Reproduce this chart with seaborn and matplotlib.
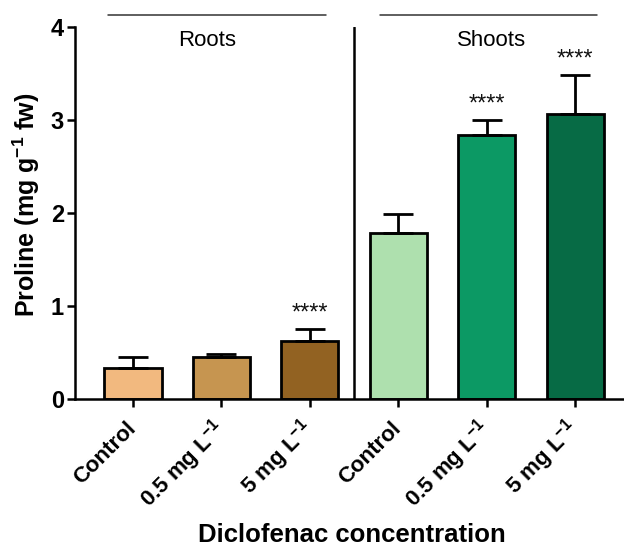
import numpy as np
import pandas as pd
import matplotlib
matplotlib.use("Agg")
import matplotlib.pyplot as plt
import seaborn as sns

# ---- data ----
groups = ["Roots", "Roots", "Roots", "Shoots", "Shoots", "Shoots"]
keys = ["R_ctrl", "R_05", "R_5", "S_ctrl", "S_05", "S_5"]
tick_labels = ["Control", r"0.5 mg L$^{-1}$", r"5 mg L$^{-1}$",
               "Control", r"0.5 mg L$^{-1}$", r"5 mg L$^{-1}$"]
means = [0.33, 0.45, 0.62, 1.78, 2.84, 3.07]
err_upper = [0.12, 0.035, 0.13, 0.21, 0.16, 0.41]
signif = ["", "", "****", "", "****", "****"]
colors = ["#F2B97F", "#C69550", "#926222", "#AEE0AE", "#0C9964", "#076B45"]
yticks = [0, 1, 2, 3, 4]

sns.set_theme(style="ticks")
plt.rcParams["font.family"] = ["Liberation Sans", "DejaVu Sans"]
plt.rcParams["mathtext.fontset"] = "custom"
plt.rcParams["mathtext.rm"] = "Liberation Sans:bold"
plt.rcParams["mathtext.bf"] = "Liberation Sans:bold"
plt.rcParams["mathtext.it"] = "Liberation Sans:bold"
for k in ["text.color", "axes.labelcolor", "xtick.color", "ytick.color",
          "axes.edgecolor"]:
    plt.rcParams[k] = "black"

df = pd.DataFrame({"key": keys, "mean": means, "group": groups})

fig = plt.figure(figsize=(6.24, 5.47), dpi=100)
ax = fig.add_axes([0.1202, 0.2706, 0.8798, 0.68])

sns.barplot(data=df, x="key", y="mean", hue="key", order=keys,
            palette=dict(zip(keys, colors)), width=0.645, legend=False,
            edgecolor="black", linewidth=2.0, saturation=1, ax=ax)

pos = np.arange(len(keys))
ax.errorbar(pos, means, yerr=[np.zeros(len(means)), err_upper], fmt="none",
            ecolor="black", elinewidth=2.0, capsize=10.5, capthick=2.0, zorder=1)

for p, m, e, s in zip(pos, means, err_upper, signif):
    if s:
        ax.text(p, m + e + 0.05, s, ha="center", va="bottom", fontsize=17,
                color="#111111")

ax.set_xlim(-0.656, 5.554)
ax.set_ylim(0, 4)
ax.set_yticks(yticks)
ax.set_yticklabels([str(t) for t in yticks], fontsize=17, fontweight="bold")
ax.set_xticks(pos)
ax.set_xticklabels(tick_labels, fontsize=16, fontweight="bold", rotation=45,
                   ha="right", va="center", rotation_mode="anchor")
ax.tick_params(axis="both", width=1.8, length=6, color="black")
ax.tick_params(axis="x", pad=13)
ax.tick_params(axis="y", pad=2)

for side in ["top", "right"]:
    ax.spines[side].set_visible(False)
for side in ["left", "bottom"]:
    ax.spines[side].set_linewidth(1.8)
    ax.spines[side].set_color("black")

ax.axvline(2.5, color="black", lw=1.8, ymin=0, ymax=1)

# group brackets
ax.plot([-0.283, 2.183], [4.13, 4.13], color="#333333", lw=1.1, clip_on=False)
ax.plot([2.794, 5.249], [4.13, 4.13], color="#333333", lw=1.1, clip_on=False)
ax.text(0.84, 3.86, "Roots", ha="center", va="center", fontsize=16)
ax.text(4.06, 3.86, "Shoots", ha="center", va="center", fontsize=16)

ax.set_ylabel(r"Proline (mg g$^{-1}$ fw)", fontsize=18, fontweight="bold")
ax.yaxis.set_label_coords(-0.06, 0.521)
ax.set_xlabel("")
fig.text(352 / 624, 1 - 535 / 547, "Diclofenac concentration", ha="center",
         va="center", fontsize=18.5, fontweight="bold")

fig.savefig("out.png", dpi=100)
